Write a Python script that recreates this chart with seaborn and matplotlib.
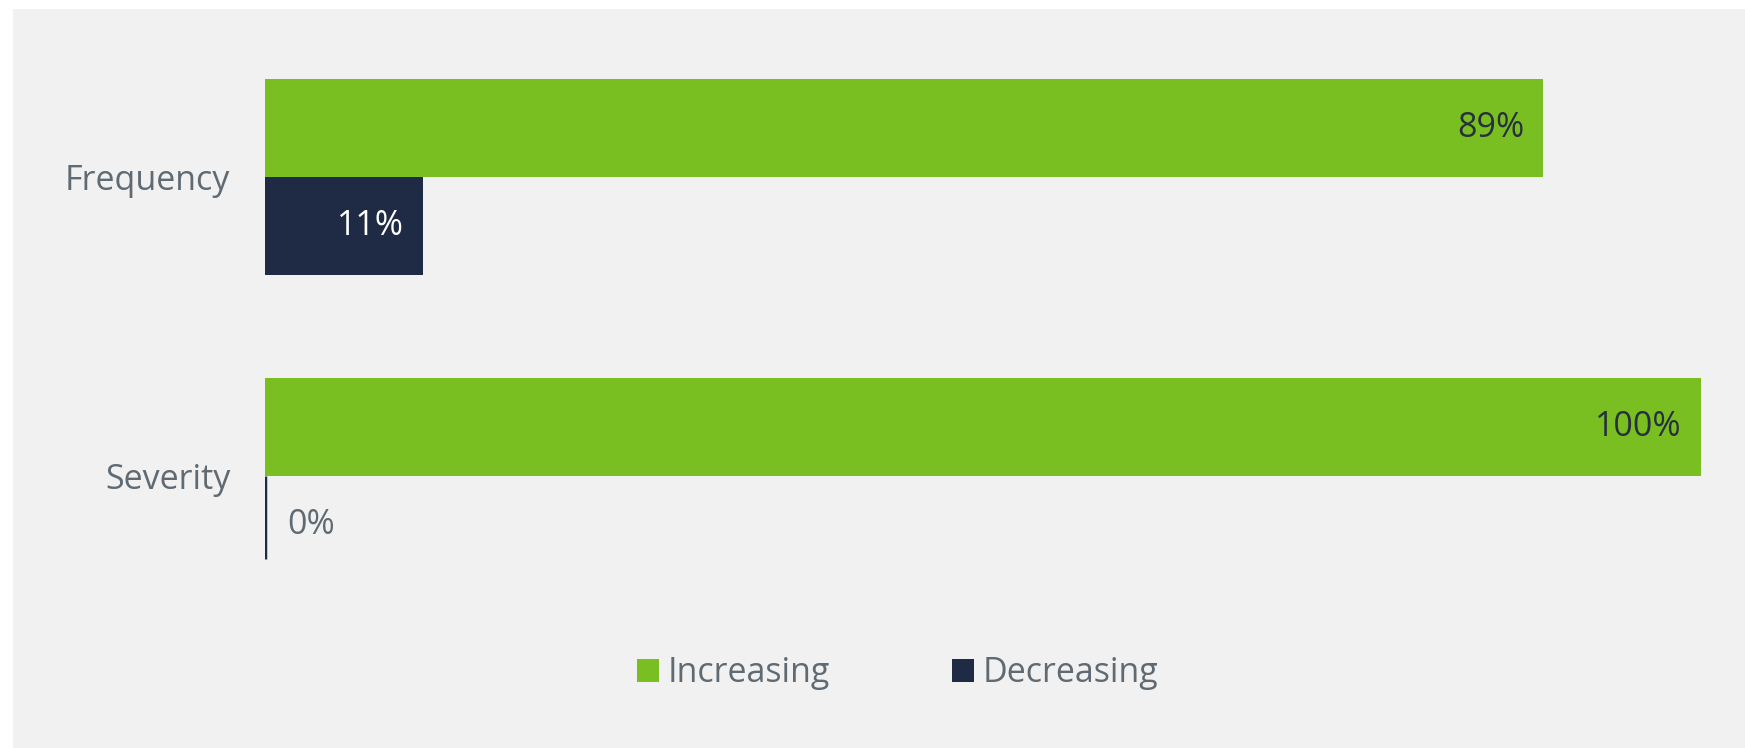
import matplotlib
matplotlib.use("Agg")
import matplotlib.pyplot as plt
from matplotlib.patches import Rectangle
import pandas as pd
import seaborn as sns

# Survey results: share of respondents seeing each trend
categories = ["Frequency", "Severity"]
trends = ["Increasing", "Decreasing"]
increasing = [89, 100]
decreasing = [11, 0]

GREEN = "#7abf21"
NAVY = "#1f2a44"
PANEL = "#f1f1f1"
TEXT_GRAY = "#5f6a73"
TEXT_DARK = "#27303d"
FS = 24.5

rows = []
for cat, inc, dec in zip(categories, increasing, decreasing):
    rows.append({"category": cat, "trend": trends[0], "share": inc})
    rows.append({"category": cat, "trend": trends[1], "share": dec})
df = pd.DataFrame(rows)

sns.set_theme(style="white")
plt.rcParams["font.family"] = ["Open Sans", "DejaVu Sans"]

W, H = 1745, 748
fig = plt.figure(figsize=(W / 100, H / 100), dpi=100)
fig.patch.set_facecolor("white")
fig.patches.append(Rectangle((13 / W, 0), 1 - 13 / W, (H - 9) / H,
                             transform=fig.transFigure, facecolor=PANEL,
                             edgecolor="none", zorder=-10))

ax = fig.add_axes([265 / W, 0, 1436 / W, (H - 9) / H])
ax.set_facecolor("none")

sns.barplot(data=df, y="category", x="share", hue="trend", orient="h",
            order=categories, hue_order=trends,
            palette=[GREEN, NAVY], saturation=1, width=0.656,
            linewidth=0, ax=ax)

ax.set_xlim(0, 100)
ax.set_ylim(1.910, -0.562)
for s in ax.spines.values():
    s.set_visible(False)
ax.set_xticks([])
ax.set_xlabel("")
ax.set_ylabel("")
ax.tick_params(axis="y", length=0, pad=25, labelsize=FS, labelcolor=TEXT_GRAY)

# Value labels: inside the bar end, or just past the axis for empty bars
for h, container in enumerate(ax.containers):
    for patch, val in zip(container.patches, container.datavalues):
        yc = patch.get_y() + patch.get_height() / 2
        label = f"{val:.0f}%"
        if val > 0:
            color = TEXT_DARK if h == 0 else "white"
            ax.annotate(label, xy=(val, yc), xytext=(-19, 0),
                        textcoords="offset pixels", ha="right", va="center",
                        fontsize=FS, color=color)
        else:
            # empty bar shown as a thin baseline marker
            patch.set_edgecolor(NAVY)
            patch.set_linewidth(2.5)
            patch.set_height(patch.get_height() * 0.85)
            ax.annotate(label, xy=(val, yc), xytext=(22, 0),
                        textcoords="offset pixels", ha="left", va="center",
                        fontsize=FS, color=TEXT_GRAY)

sns.move_legend(ax, "center", bbox_to_anchor=(0.5144, 0.100),
                bbox_transform=fig.transFigure, ncol=2, frameon=False,
                title=None, fontsize=FS, handlelength=0.65,
                handleheight=0.65, handletextpad=0.27, columnspacing=3.56,
                labelcolor=TEXT_GRAY)

fig.savefig("out.png", dpi=100)
